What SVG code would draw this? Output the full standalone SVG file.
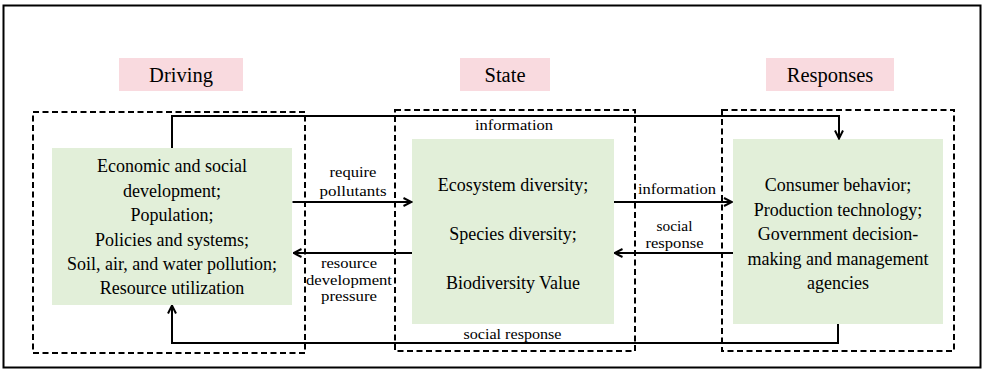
<svg xmlns="http://www.w3.org/2000/svg" width="993" height="371" viewBox="0 0 993 371">
  <defs>
    <style>
      .frame { fill: #ffffff; stroke: #000000; stroke-width: 2; }
      .hdr { fill: #f9dadf; }
      .hdrtext { font-family: "Liberation Serif", "DejaVu Serif", serif; font-size: 20.5px; fill: #000; text-anchor: middle; }
      .dash { fill: none; stroke: #000; stroke-width: 2; stroke-dasharray: 6 3.5; }
      .green { fill: #e2efd9; }
      .boxtext { font-family: "Liberation Serif", "DejaVu Serif", serif; font-size: 18px; fill: #000; text-anchor: middle; }
      .lbl { font-family: "Liberation Serif", "DejaVu Serif", serif; font-size: 15px; fill: #000; text-anchor: middle; }
      .conn { fill: none; stroke: #000; stroke-width: 2; marker-end: url(#arrow); }
    </style>
    <marker id="arrow" viewBox="0 0 10 10" refX="9" refY="5" markerWidth="10" markerHeight="10" markerUnits="userSpaceOnUse" orient="auto">
      <path d="M1,1 L9,5 L1,9" fill="none" stroke="#000" stroke-width="2"/>
    </marker>
  </defs>

  <rect class="frame" x="3.5" y="5.5" width="977" height="362"/>

  <g id="header-driving">
    <rect class="hdr" x="119" y="58" width="124" height="33"/>
    <text class="hdrtext" x="181" y="81.5">Driving</text>
  </g>
  <g id="header-state">
    <rect class="hdr" x="460" y="58" width="90" height="33"/>
    <text class="hdrtext" x="505" y="81.5">State</text>
  </g>
  <g id="header-responses">
    <rect class="hdr" x="766" y="58" width="128" height="33"/>
    <text class="hdrtext" x="830" y="81.5">Responses</text>
  </g>

  <g id="driving">
    <rect class="dash" x="33" y="112" width="272" height="241"/>
    <rect class="green" x="52" y="148" width="240" height="157"/>
    <text class="boxtext" x="172" y="172">Economic and social</text>
    <text class="boxtext" x="172" y="196.5">development;</text>
    <text class="boxtext" x="172" y="221">Population;</text>
    <text class="boxtext" x="172" y="245.5">Policies and systems;</text>
    <text class="boxtext" x="172" y="269.5">Soil, air, and water pollution;</text>
    <text class="boxtext" x="172" y="294">Resource utilization</text>
  </g>

  <g id="state">
    <rect class="dash" x="395" y="110" width="240" height="241"/>
    <rect class="green" x="412" y="139" width="202" height="185"/>
    <text class="boxtext" x="513" y="191">Ecosystem diversity;</text>
    <text class="boxtext" x="513" y="240">Species diversity;</text>
    <text class="boxtext" x="513" y="289">Biodiversity Value</text>
  </g>

  <g id="responses">
    <rect class="dash" x="722" y="110" width="232" height="241"/>
    <rect class="green" x="733" y="139" width="210" height="185"/>
    <text class="boxtext" x="838" y="191">Consumer behavior;</text>
    <text class="boxtext" x="838" y="215.5">Production technology;</text>
    <text class="boxtext" x="838" y="240">Government decision-</text>
    <text class="boxtext" x="838" y="264.5">making and management</text>
    <text class="boxtext" x="838" y="289">agencies</text>
  </g>

  <g id="connectors">
    <path class="conn" d="M172,148 V116 H839 V138.5"/>
    <text class="lbl" x="514" y="130" textLength="78" lengthAdjust="spacingAndGlyphs">information</text>

    <path class="conn" d="M838,324 V343 H172 V305.5"/>
    <text class="lbl" x="512.5" y="339" textLength="98" lengthAdjust="spacingAndGlyphs">social response</text>

    <path class="conn" d="M292.5,202 H411.5"/>
    <text class="lbl" x="353" y="177" textLength="47" lengthAdjust="spacingAndGlyphs">require</text>
    <text class="lbl" x="353" y="196" textLength="67" lengthAdjust="spacingAndGlyphs">pollutants</text>

    <path class="conn" d="M412,253 H293.5"/>
    <text class="lbl" x="349" y="267.5" textLength="56" lengthAdjust="spacingAndGlyphs">resource</text>
    <text class="lbl" x="349" y="284.5" textLength="86" lengthAdjust="spacingAndGlyphs">development</text>
    <text class="lbl" x="349" y="301" textLength="56" lengthAdjust="spacingAndGlyphs">pressure</text>

    <path class="conn" d="M614,202 H732"/>
    <text class="lbl" x="677" y="193.5" textLength="78" lengthAdjust="spacingAndGlyphs">information</text>

    <path class="conn" d="M733,253 H614.5"/>
    <text class="lbl" x="674.5" y="231" textLength="36" lengthAdjust="spacingAndGlyphs">social</text>
    <text class="lbl" x="674.5" y="248" textLength="58" lengthAdjust="spacingAndGlyphs">response</text>
  </g>
</svg>
